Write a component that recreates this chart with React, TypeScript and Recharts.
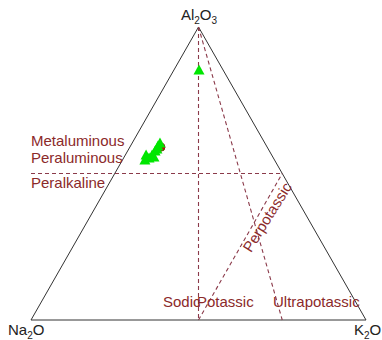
import React from 'react';
import { ScatterChart, Scatter, XAxis, YAxis, ReferenceLine } from 'recharts';

// Sample compositions (molar fractions): Al2O3, Na2O, K2O
const sampleAl = [0.853, 0.546, 0.553, 0.563, 0.577, 0.594, 0.604, 0.563, 0.556, 0.584];
const sampleNa = [0.072, 0.387, 0.371, 0.357, 0.341, 0.324, 0.313, 0.375, 0.355, 0.332];
const sampleK = [0.075, 0.067, 0.076, 0.08, 0.082, 0.082, 0.083, 0.062, 0.089, 0.084];

// Second group (red)
const redAl = [0.59];
const redNa = [0.317];
const redK = [0.093];

// Vertex names
const vertexTop = ['Al', '2', 'O', '3'];
const vertexLeft = ['Na', '2', 'O'];
const vertexRight = ['K', '2', 'O'];

// Field names
const fieldNames = ['Metaluminous', 'Peraluminous', 'Peralkaline', 'Sodic', 'Potassic', 'Ultrapotassic', 'Perpotassic'];

// Boundary lines in ternary coordinates [Al, Na, K] -> [Al, Na, K]
const boundaryStart = [
  [1, 0, 0],
  [1, 0, 0],
  [0, 0.5, 0.5],
];
const boundaryEnd = [
  [0, 0.5, 0.5],
  [0, 0.25, 0.75],
  [0.5, 0, 0.5],
];
// Peraluminous / peralkaline boundary, Al2O3 = 0.5
const alumLevel = 0.5;

const toXY = (al: number, na: number, k: number) => {
  const s = al + na + k;
  return { x: k / s + al / s / 2, y: al / s };
};

const W = 382;
const H = 340;
const X0 = 31;
const X1 = 366;
const Y0 = 320;
const Y1 = 27;
const xScale = X1 - X0;
const yScale = Y0 - Y1;
const xDomain = [-X0 / xScale, (W - X0) / xScale];
const yDomain = [-(H - Y0) / yScale, Y0 / yScale];
const px = (x: number) => (x - X0) / xScale;
const py = (y: number) => (Y0 - y) / yScale;

const LABEL_COLOR = '#8b2a2a';
const LINE_COLOR = '#8b3a4a';
const FONT = '"Liberation Sans", Arial, sans-serif';

const greenData = sampleAl.map((a, i) => toXY(a, sampleNa[i], sampleK[i]));
const redData = redAl.map((a, i) => toXY(a, redNa[i], redK[i]));

const Tri = (props: any) => {
  const { cx, cy } = props;
  if (cx == null || cy == null) return null;
  const pts = `${cx - 5.5},${cy + 4.5} ${cx + 5.5},${cy + 4.5} ${cx},${cy - 5.5}`;
  return <polygon points={pts} fill="#00e600" stroke="none" />;
};

const RedDot = (props: any) => {
  const { cx, cy } = props;
  if (cx == null || cy == null) return null;
  return <circle cx={cx} cy={cy} r={4} fill="#c01010" stroke="#8b1a1a" strokeWidth={1} />;
};

const Label = (props: any) => {
  const { cx, cy, payload } = props;
  if (cx == null || cy == null) return null;
  if (payload.chem) {
    const parts: string[] = payload.chem;
    return (
      <text x={cx} y={cy} textAnchor={payload.anchor} fill="#222" fontFamily={FONT} fontSize={15}>
        {parts.map((p, i) =>
          i % 2 === 1 ? (
            <tspan key={i} dy={4} fontSize={10}>{p}</tspan>
          ) : (
            <tspan key={i} dy={i === 0 ? 0 : -4}>{p}</tspan>
          )
        )}
      </text>
    );
  }
  return (
    <text
      x={cx}
      y={cy}
      textAnchor={payload.anchor}
      dominantBaseline={payload.rotate ? 'central' : 'alphabetic'}
      transform={payload.rotate ? `rotate(${payload.rotate} ${cx} ${cy})` : undefined}
      fill={LABEL_COLOR}
      fontFamily={FONT}
      fontSize={15}
    >
      {payload.text}
    </text>
  );
};

export default function App() {
  const labels = [
    { x: px(31), y: py(146), text: fieldNames[0], anchor: 'start' },
    { x: px(31), y: py(163), text: fieldNames[1], anchor: 'start' },
    { x: px(31), y: py(188), text: fieldNames[2], anchor: 'start' },
    { x: px(163), y: py(307), text: fieldNames[3], anchor: 'start' },
    { x: px(197), y: py(307), text: fieldNames[4], anchor: 'start' },
    { x: px(273), y: py(307), text: fieldNames[5], anchor: 'start' },
    { x: px(267), y: py(217), text: fieldNames[6], anchor: 'middle', rotate: -58 },
    { x: px(199), y: py(20), chem: vertexTop, anchor: 'middle' },
    { x: px(8), y: py(335), chem: vertexLeft, anchor: 'start' },
    { x: px(354), y: py(335), chem: vertexRight, anchor: 'start' },
  ];

  const na = toXY(0, 1, 0);
  const k = toXY(0, 0, 1);
  const al = toXY(1, 0, 0);
  const edges = [
    [na, k],
    [k, al],
    [al, na],
  ];
  const bounds = boundaryStart.map((s, i) => [toXY(s[0], s[1], s[2]), toXY(boundaryEnd[i][0], boundaryEnd[i][1], boundaryEnd[i][2])]);
  const alumRight = toXY(alumLevel, 0, 1 - alumLevel);

  return (
    <div style={{ position: 'absolute', left: 0, top: 0, background: '#fff' }}>
      <ScatterChart width={W} height={H} margin={{ top: 0, right: 0, bottom: 0, left: 0 }}>
        <XAxis type="number" dataKey="x" domain={xDomain} hide allowDataOverflow />
        <YAxis type="number" dataKey="y" domain={yDomain} hide allowDataOverflow />
        {edges.map((e, i) => (
          <ReferenceLine key={'e' + i} segment={e} stroke="#333" strokeWidth={1} ifOverflow="visible" />
        ))}
        {bounds.map((b, i) => (
          <ReferenceLine key={'b' + i} segment={b} stroke={LINE_COLOR} strokeWidth={1.1} strokeDasharray="4 3" ifOverflow="visible" />
        ))}
        <ReferenceLine
          segment={[{ x: 0, y: alumLevel }, alumRight]}
          stroke={LINE_COLOR}
          strokeWidth={1.1}
          strokeDasharray="4 3"
          ifOverflow="visible"
        />
        <Scatter data={labels} shape={Label} isAnimationActive={false} />
        <Scatter data={redData} shape={RedDot} isAnimationActive={false} />
        <Scatter data={greenData} shape={Tri} isAnimationActive={false} />
      </ScatterChart>
    </div>
  );
}
